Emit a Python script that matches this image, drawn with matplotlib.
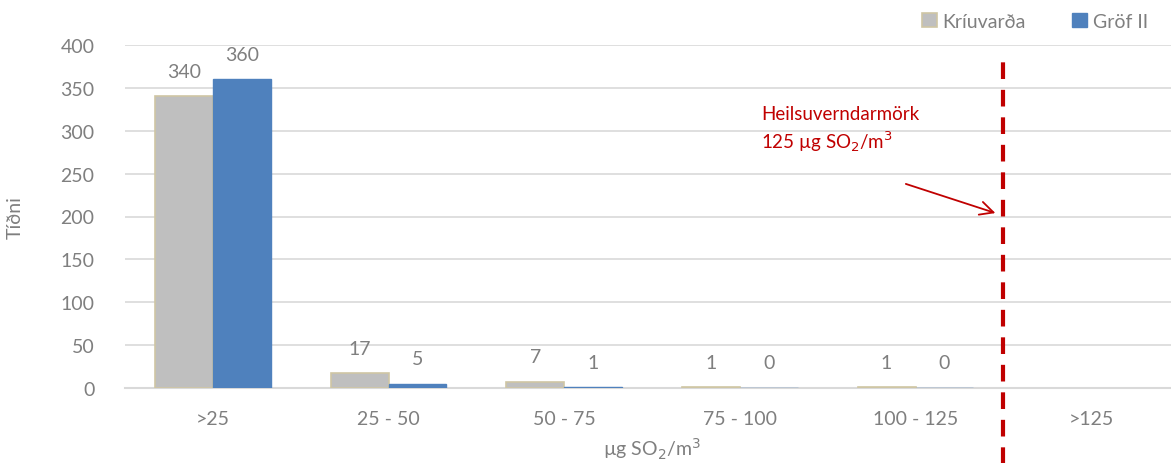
import numpy as np
import matplotlib.pyplot as plt

plt.rcParams['font.family'] = ['Lato', 'DejaVu Sans']

categories = ['>25', '25 - 50', '50 - 75', '75 - 100', '100 - 125', '>125']
kriuvarda = [340, 17, 7, 1, 1, np.nan]
grof = [360, 5, 1, 0, 0, np.nan]

grey_txt = '#7F7F7F'
red = '#C00000'

fig = plt.figure(figsize=(11.71, 4.64), dpi=100)
ax = fig.add_axes([125 / 1171, (464 - 389) / 464, 1054 / 1171, 343 / 464])

x = np.arange(len(categories))
w = 0.33
ax.bar(x - w / 2, kriuvarda, w, color='#BFBFBF', edgecolor='#CFC6A4', linewidth=1.2,
       label='Kríuvarða', zorder=3)
ax.bar(x + w / 2, grof, w, color='#4F81BD', edgecolor='#4F81BD', linewidth=1,
       label='Gröf II', zorder=3)

for xi, v in zip(x - w / 2, kriuvarda):
    if not np.isnan(v):
        ax.annotate(f'{v:g}', (xi, v), xytext=(0, 18), textcoords='offset points',
                    ha='center', va='center', fontsize=14, color=grey_txt)
for xi, v in zip(x + w / 2, grof):
    if not np.isnan(v):
        ax.annotate(f'{v:g}', (xi, v), xytext=(0, 18), textcoords='offset points',
                    ha='center', va='center', fontsize=14, color=grey_txt)

ax.set_xlim(-0.5, 5.5)
ax.set_ylim(0, 400)
ax.set_yticks(range(0, 401, 50))
ax.set_xticks(x)
ax.set_xticklabels(categories)
ax.tick_params(axis='both', length=0, labelsize=14, colors=grey_txt)
ax.tick_params(axis='x', pad=16)
ax.tick_params(axis='y', pad=22)
ax.grid(axis='y', color='#D9D9D9', linewidth=1.2, zorder=0)
for s in ['top', 'right', 'left']:
    ax.spines[s].set_visible(False)
ax.spines['bottom'].set_color('#D9D9D9')
ax.spines['bottom'].set_linewidth(1.5)

ax.set_ylabel('Tíðni', fontsize=14, color=grey_txt, labelpad=26)
ax.set_xlabel('µg SO$_2$/m$^3$', fontsize=14, color=grey_txt, labelpad=6)

# health limit line
ax.plot([4.5, 4.5], [-90, 390], color=red, linestyle=(0, (4, 2.6)), linewidth=3,
        clip_on=False, zorder=4)
ax.annotate('', xy=(4.47, 203), xytext=(3.93, 239),
            arrowprops=dict(arrowstyle='->', color=red, lw=1.3, mutation_scale=24))
ax.text(3.12, 302, 'Heilsuverndarmörk\n125 µg SO$_2$/m$^3$', color=red, fontsize=13.5,
        ha='left', va='center', linespacing=1.35)

ax.legend(loc='center right', bbox_to_anchor=(1148 / 1171, 1 - 22 / 464),
          bbox_transform=fig.transFigure, ncol=2, frameon=False,
          fontsize=14, labelcolor=grey_txt, handlelength=0.75, handleheight=0.75,
          handletextpad=0.3, columnspacing=2.4, borderaxespad=0, borderpad=0)

fig.savefig('out.png', dpi=100)
